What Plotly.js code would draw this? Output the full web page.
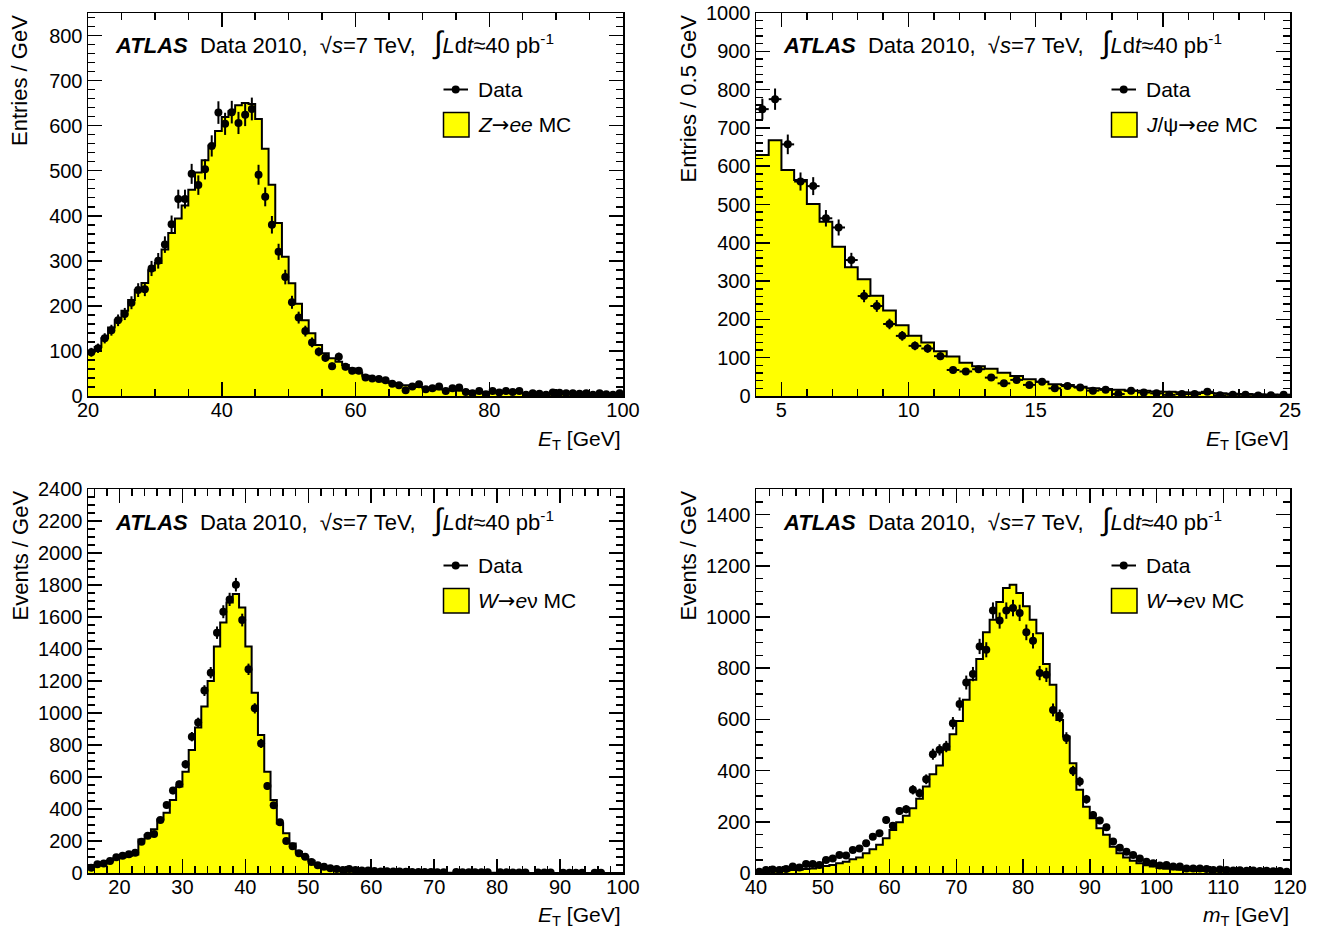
<!DOCTYPE html>
<html>
<head>
<meta charset="utf-8">
<script src="https://cdn.plot.ly/plotly-3.0.1.min.js"></script>
<style>html,body{margin:0;padding:0;background:#fff;}</style>
</head>
<body>
<div id="chart" style="width:1322px;height:931px;"></div>
<script>
// ---------------- DATA ----------------
// Panel 1: Z->ee, electron ET, 1 GeV bins from 20 to 100
const zBinStart = 20, zBinWidth = 1;
const zData = [97,106,128,146,168,182,207,235,237,283,300,336,381,437,437,493,468,503,555,629,
  604,630,606,624,637,491,442,380,320,264,208,174,144,119,98,85,66,87,65,56,
  56,41,39,38,35,27,24,13,21,26,15,17,21,11,17,19,9,6,11,4,
  11,8,11,9,11,3,6,5,3,8,7,6,6,5,6,3,6,4,3,6];
const zMC = [98,109,128,152,168,189,213,235,251,279,295,325,362,394,423,458,496,523,556,588,
  619,632,645,650,648,615,549,469,384,309,250,205,168,139,113,95,84,76,69,61,
  52,45,40,36,32,29,26,24,22,20,18,17,15,14,13,12,11,10,9.5,9,
  8,7.5,7,7,6.5,6,6,5.5,5.5,5,5,5,4.5,4.5,4,4,4,3.5,3.5,3];

// Panel 2: J/psi->ee, electron ET, 0.5 GeV bins from 4 to 25
const jBinStart = 4, jBinWidth = 0.5;
const jData = [749,775,657,560,548,464,440,355,261,235,188,157,131,124,104,68,64,70,48,33,
  42,29,37,20,26,22,14,16,5,14,9,7,3,5,5,11,2,3,3,1,2,3];
const jMC = [629,668,590,564,501,455,390,336,305,262,223,185,157,140,117,103,87,78,71,61,
  52,44,37,31,29,24,20,18,16,14,14,12,11,10,9,8,7,6,5,4.5,4,3];

// Panel 3: W->e nu, electron ET, 1 GeV bins from 15 to 100
const wBinStart = 15, wBinWidth = 1;
const wData = [33,54,60,75,98,108,117,127,196,233,244,331,425,515,554,679,852,940,1140,1252,
  1502,1633,1710,1802,1581,1273,1029,810,544,423,317,200,167,123,102,69,49,39,29,25,
  19,25,19,15,15,12,10,11,9,9,8,7,7,6,6,5,5,null,6,5,
  5,5,4,4,null,4,4,3,3,3,null,3,3,3,null,2,2,2,2,null,
  2,2,null,null,null];
const wMC = [40,50,65,77,90,98,108,115,210,237,273,335,377,456,540,633,769,910,1040,1200,
  1415,1565,1690,1744,1660,1415,1127,862,633,456,310,248,185,133,102,77,50,33,23,18,
  13,10,8,6,5,4.5,4,3.5,3,3,2.5,2.5,2,2,2,1.8,1.6,1.5,1.4,1.3,
  1.2,1.1,1,1,0.9,0.9,0.8,0.8,0.7,0.7,0.7,0.6,0.6,0.6,0.5,0.5,0.5,0.5,0.4,0.4,
  0.4,0.4,0.3,0.3,0.3];

// Panel 4: W->e nu, transverse mass, 1 GeV bins from 40 to 120
const mBinStart = 40, mBinWidth = 1;
const mData = [5,12,14,12,16,25,21,35,35,31,51,57,70,68,90,96,116,142,155,207,
  185,242,249,325,312,366,464,481,494,585,660,744,777,885,872,1025,986,1025,1035,1016,
  940,907,781,774,637,614,527,399,357,288,227,205,179,123,99,83,70,57,44,38,
  29,31,25,25,18,18,18,16,12,14,12,10,11,9,10,8,9,7,8,5];
const mMC = [4,5,7,8,9,12,13,16,18,22,27,31,38,44,54,61,77,93,110,136,
  168,198,224,253,290,338,386,420,481,542,594,677,755,836,940,989,1059,1113,1126,1094,
  1042,989,937,816,735,598,533,429,325,259,214,175,149,103,77,61,48,38,30,25,
  20,17,15,13,11,10,9,8,7,7,6,6,5,5,5,4,4,4,4,3];

// Labels
const ARROW = '<span style="font-family:DejaVu Sans">→</span>';
const headerText = '<b><i>ATLAS</i></b>\u00a0\u00a0Data 2010,\u00a0\u00a0√<i>s</i>=7 TeV,\u00a0\u00a0\u00a0<span style="font-size:31px">∫</span><i>L</i>d<i>t</i>≈40 pb<sup>-1</sup>';
const mcLabels = ['<i>Z</i>' + ARROW + '<i>ee</i> MC', '<i>J</i>/ψ' + ARROW + '<i>ee</i> MC',
                  '<i>W</i>' + ARROW + '<i>e</i>ν MC', '<i>W</i>' + ARROW + '<i>e</i>ν MC'];
const yTitles = ['Entries / GeV', 'Entries / 0.5 GeV', 'Events / GeV', 'Events / GeV'];
const xTitles = ['<i>E</i><sub>T</sub> [GeV]', '<i>E</i><sub>T</sub> [GeV]', '<i>E</i><sub>T</sub> [GeV]', '<i>m</i><sub>T</sub> [GeV]'];

// ---------------- BUILD ----------------
const W = 1322, H = 931;
const FONT = 'Liberation Sans, Arial, Helvetica, sans-serif';
function centers(start, w, n){ const a=[]; for(let i=0;i<n;i++) a.push(start+(i+0.5)*w); return a; }
function edges(start, w, n){ const a=[]; for(let i=0;i<=n;i++) a.push(start+i*w); return a; }

const panels = [
  {start:zBinStart, w:zBinWidth, data:zData, mc:zMC, xa:'x',  ya:'y'},
  {start:jBinStart, w:jBinWidth, data:jData, mc:jMC, xa:'x2', ya:'y2'},
  {start:wBinStart, w:wBinWidth, data:wData, mc:wMC, xa:'x3', ya:'y3'},
  {start:mBinStart, w:mBinWidth, data:mData, mc:mMC, xa:'x4', ya:'y4'}
];

const traces = [];
panels.forEach(p => {
  const e = edges(p.start, p.w, p.mc.length);
  traces.push({
    type:'scatter', mode:'lines', x:e, y:p.mc.concat([p.mc[p.mc.length-1]]),
    line:{shape:'hv', color:'black', width:2}, fill:'tozeroy', fillcolor:'#ffff00',
    xaxis:p.xa, yaxis:p.ya, hoverinfo:'skip'
  });
  traces.push({
    type:'scatter', mode:'markers', x:centers(p.start, p.w, p.data.length), y:p.data,
    marker:{color:'black', size:8},
    error_y:{type:'sqrt', color:'black', thickness:2, width:0},
    error_x:{type:'constant', value:p.w/2, color:'black', thickness:2, width:0},
    xaxis:p.xa, yaxis:p.ya
  });
});

function axis(domain, range, dtick, minorDtick, anchor, isX){
  return {
    domain:domain, range:range, anchor:anchor, dtick:dtick, tick0:0,
    showline:true, linecolor:'black', linewidth:1.5, mirror:'allticks',
    ticks:'inside', ticklen:14, tickwidth:1.5, tickcolor:'black',
    ticklabelstandoff: isX ? -5 : 0,
    minor:{ticks:'inside', ticklen:7, tickwidth:1.5, tickcolor:'black', dtick:minorDtick, showgrid:false},
    showgrid:false, zeroline:false, tickfont:{family:FONT, size:20, color:'black'}, fixedrange:true
  };
}
const xL = [88/W, 623/W], xR = [756/W, 1290/W];
const yT = [1-396/H, 1-13/H], yB = [1-873/H, 1-489/H];

const layout = {
  width:W, height:H, margin:{l:0,r:0,t:0,b:0}, showlegend:false,
  paper_bgcolor:'white', plot_bgcolor:'white', font:{family:FONT, color:'black'},
  xaxis: axis(xL, [20,100], 20, 5, 'y', true),
  yaxis: axis(yT, [0,850], 100, 20, 'x', false),
  xaxis2: axis(xR, [4,25], 5, 1, 'y2', true),
  yaxis2: axis(yT, [0,1000], 100, 20, 'x2', false),
  xaxis3: axis(xL, [15,100], 10, 2, 'y3', true),
  yaxis3: axis(yB, [0,2400], 200, 50, 'x3', false),
  xaxis4: axis(xR, [40,120], 10, 2, 'y4', true),
  yaxis4: axis(yB, [0,1500], 200, 50, 'x4', false),
  annotations:[], shapes:[]
};

function ann(text, x, y, xanchor, yanchor, size, extra){
  return Object.assign({text:text, xref:'paper', yref:'paper', x:x/W, y:1-y/H, showarrow:false,
    xanchor:xanchor, yanchor:yanchor, font:{family:FONT, size:size, color:'black'}}, extra||{});
}
const offs = [[0,0],[668,0],[0,476],[668,476]];
offs.forEach((o,i) => {
  const dx=o[0], dy=o[1];
  layout.annotations.push(ann(headerText, 113+dx, 43+dy, 'left', 'middle', 22));
  layout.annotations.push(ann('Data', 476+dx, 89.5+dy, 'left', 'middle', 21));
  layout.annotations.push(ann(mcLabels[i], 476+dx, 125+dy, 'left', 'middle', 21));
  layout.annotations.push(ann(yTitles[i], 19.5+dx, 13+dy, 'center', 'top', 22, {textangle:-90}));
  layout.annotations.push(ann(xTitles[i], 623+dx, 440+dy, 'right', 'middle', 21));
  layout.shapes.push({type:'line', xref:'paper', yref:'paper', x0:(443.5+dx)/W, x1:(468+dx)/W,
    y0:1-(89.5+dy)/H, y1:1-(89.5+dy)/H, line:{color:'black', width:2}});
  layout.shapes.push({type:'circle', xref:'paper', yref:'paper', x0:(451.7+dx)/W, x1:(459.7+dx)/W,
    y0:1-(93.5+dy)/H, y1:1-(85.5+dy)/H, fillcolor:'black', line:{color:'black', width:0}});
  layout.shapes.push({type:'rect', xref:'paper', yref:'paper', x0:(443.5+dx)/W, x1:(469+dx)/W,
    y0:1-(137+dy)/H, y1:1-(112.5+dy)/H, fillcolor:'#ffff00', line:{color:'black', width:1.5}});
});

Plotly.newPlot('chart', traces, layout, {staticPlot:true, displayModeBar:false});
</script>
</body>
</html>
